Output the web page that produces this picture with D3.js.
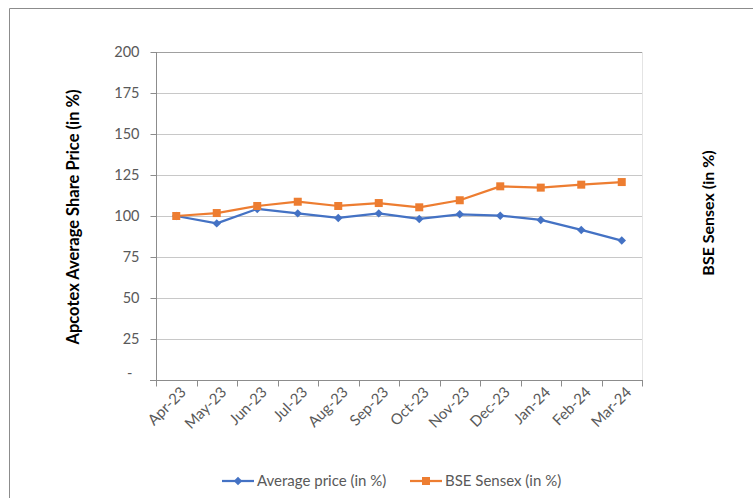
<!DOCTYPE html>
<html><head><meta charset="utf-8">
<script src="https://cdn.jsdelivr.net/npm/d3@7"></script>
<style>body{margin:0;background:#fff}svg{display:block}</style>
</head><body>
<script>
const months = ["Apr-23","May-23","Jun-23","Jul-23","Aug-23","Sep-23","Oct-23","Nov-23","Dec-23","Jan-24","Feb-24","Mar-24"];
const avgPrice = [100, 95.5, 104.3, 101.6, 98.8, 101.6, 98.2, 101.0, 100.2, 97.6, 91.5, 85.0];
const sensex = [100, 101.8, 106.1, 108.7, 106.1, 107.9, 105.3, 109.6, 118.1, 117.3, 119.1, 120.7];
const yTicks = [0, 25, 50, 75, 100, 125, 150, 175, 200];
const seriesNames = ["Average price (in %)", "BSE Sensex (in %)"];
const colors = ["#4472C4", "#ED7D31"];

const W = 753, H = 498;
const font = "Lato, 'Open Sans', sans-serif";
const svg = d3.select("body").append("svg").attr("width", W).attr("height", H);

// outer border (left/top)
svg.append("path").attr("d", "M9.5,498 V8.5 H753").attr("fill","none").attr("stroke","#8c8c8c").attr("stroke-width",1);

const x = d3.scaleBand().domain(months).range([156, 642]);
const y = d3.scaleLinear().domain([0, 200]).range([380, 52]);

// gridlines
svg.append("g").selectAll("line").data(yTicks.filter(d => d > 0)).join("line")
  .attr("x1", 156).attr("x2", 643)
  .attr("y1", d => Math.round(y(d)) + 0.5).attr("y2", d => Math.round(y(d)) + 0.5)
  .attr("stroke", d => d === 200 ? "#a0a0a0" : "#c8c8c8").attr("stroke-width", 1);
// right edge
svg.append("line").attr("x1", 642.5).attr("x2", 642.5).attr("y1", 52).attr("y2", 380)
  .attr("stroke", "#e4e4e4");

// y axis
const yAxis = svg.append("g").attr("transform", "translate(156.5,0)")
  .call(d3.axisLeft(y).tickValues(yTicks).tickSize(6).tickPadding(11)
    .tickFormat(d => d === 0 ? "-" : d));
yAxis.select(".domain").attr("stroke", "#8c8c8c").attr("d", "M0,52V380.5");
yAxis.selectAll(".tick line").attr("stroke", "#8c8c8c");
yAxis.selectAll(".tick text").attr("font-family", font).attr("font-size", 14.5).attr("fill", "#595959");
yAxis.selectAll(".tick text").filter(d => d === 0).attr("dx", -7).attr("dy", "-0.2em");

// x axis
const xAxisG = svg.append("g").attr("transform", "translate(0,380.5)");
xAxisG.append("line").attr("x1", 150).attr("x2", 643).attr("stroke", "#8c8c8c");
const bounds = months.map(m => x(m)).concat([x.range()[1]]);
xAxisG.selectAll("line.tk").data(bounds).join("line").attr("class","tk")
  .attr("x1", d => Math.round(d) + 0.5).attr("x2", d => Math.round(d) + 0.5)
  .attr("y1", 0).attr("y2", 6).attr("stroke", "#8c8c8c");
xAxisG.selectAll("text").data(months).join("text")
  .attr("transform", d => `translate(${x(d) + x.bandwidth()/2 + 7},${9}) rotate(-45)`)
  .attr("text-anchor", "end").attr("dy", "0.35em")
  .attr("font-family", font).attr("font-size", 15).attr("fill", "#595959")
  .text(d => d);

// lines
const line = d3.line().x((d, i) => x(months[i]) + x.bandwidth()/2).y(d => y(d));
[avgPrice, sensex].forEach((s, k) => {
  svg.append("path").datum(s).attr("d", line).attr("fill", "none")
    .attr("stroke", colors[k]).attr("stroke-width", 2.25).attr("stroke-linejoin", "round");
});
// markers
svg.append("g").selectAll("path").data(avgPrice).join("path")
  .attr("transform", (d, i) => `translate(${x(months[i]) + x.bandwidth()/2},${y(d)}) rotate(45)`)
  .attr("d", "M-3,-3H3V3H-3Z").attr("fill", colors[0]);
svg.append("g").selectAll("rect").data(sensex).join("rect")
  .attr("x", (d, i) => x(months[i]) + x.bandwidth()/2 - 4).attr("y", d => y(d) - 4)
  .attr("width", 8).attr("height", 8).attr("fill", colors[1]);

// axis titles
svg.append("text").attr("transform", "translate(79,217) rotate(-90)")
  .attr("text-anchor", "middle").attr("font-family", font).attr("font-size", 16.5)
  .attr("font-weight", "bold").attr("fill", "#000").text("Apcotex Average Share Price (in %)");
svg.append("text").attr("transform", "translate(714,213) rotate(-90)")
  .attr("text-anchor", "middle").attr("font-family", font).attr("font-size", 16)
  .attr("font-weight", "bold").attr("fill", "#000").text("BSE Sensex (in %)");

// legend
const legX = [222, 410];
seriesNames.forEach((n, k) => {
  const g = svg.append("g").attr("transform", `translate(${legX[k]},481)`);
  g.append("line").attr("x1", 0).attr("x2", 32).attr("stroke", colors[k]).attr("stroke-width", 2.25);
  if (k === 0) g.append("path").attr("transform", "translate(16,0) rotate(45)").attr("d", "M-3,-3H3V3H-3Z").attr("fill", colors[0]);
  else g.append("rect").attr("x", 12).attr("y", -4).attr("width", 8).attr("height", 8).attr("fill", colors[1]);
  g.append("text").attr("x", 35).attr("dy", "0.35em").attr("font-family", font).attr("font-size", 15)
    .attr("fill", "#595959").text(n);
});
</script>
</body></html>
